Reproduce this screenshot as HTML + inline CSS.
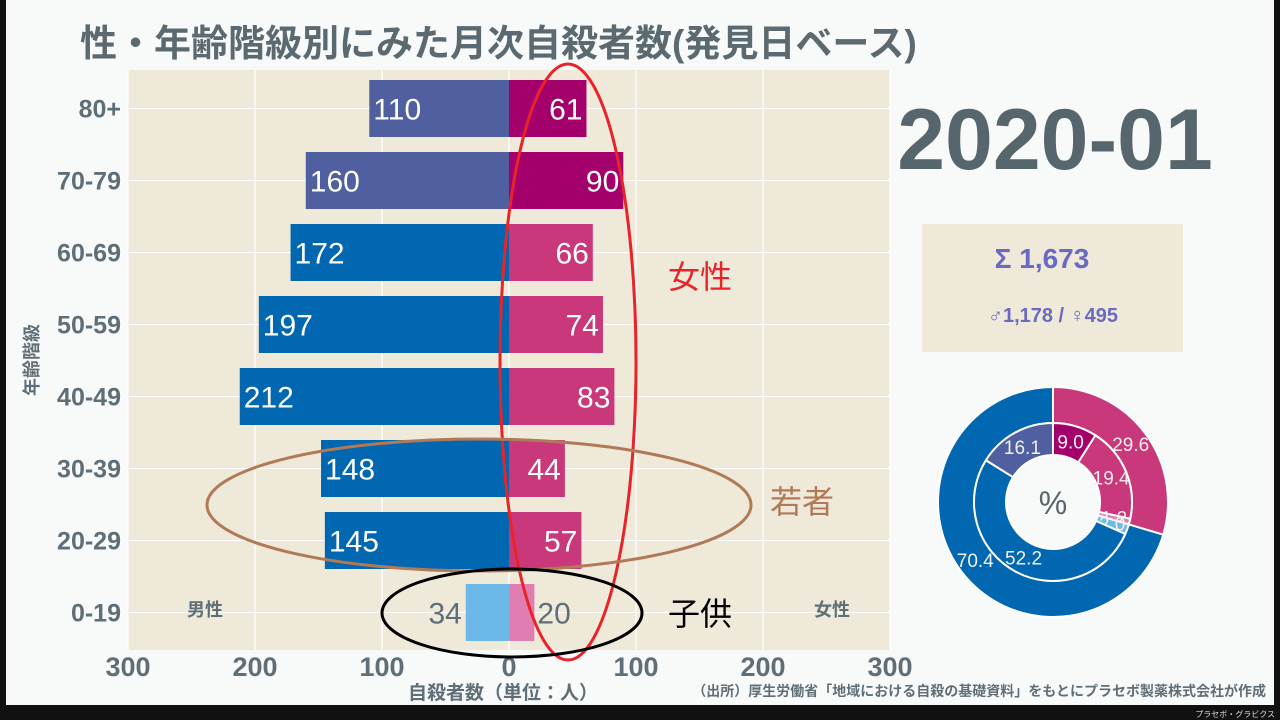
<!DOCTYPE html>
<html><head><meta charset="utf-8"><style>
html,body{margin:0;padding:0;background:#111;}
svg{display:block;font-family:"Liberation Sans","Noto Sans CJK JP",sans-serif;}
</style></head><body>
<svg id="c" width="1280" height="720" viewBox="0 0 1280 720">
<rect x="6" y="0" width="1268" height="705" fill="#f8f9f9"/>
<text x="80" y="56" font-size="37" font-weight="bold" fill="#5a6a70">性・年齢階級別にみた月次自殺者数(発見日ベース)</text>
<rect x="128" y="70" width="762" height="580" fill="#efe9d9"/>
<g id="grid"></g><g id="bars"></g><g id="ticks"></g>
<text x="205" y="616" font-size="18" font-weight="bold" fill="#5f6f78" text-anchor="middle">男性</text>
<text x="832" y="616" font-size="18" font-weight="bold" fill="#5f6f78" text-anchor="middle">女性</text>
<text transform="translate(38,360) rotate(-90)" font-size="18" font-weight="bold" fill="#5f6f78" text-anchor="middle">年齢階級</text>
<text x="503" y="699" font-size="19" font-weight="bold" fill="#5f6f78" text-anchor="middle">自殺者数（単位：人）</text>
<text x="1266" y="696" font-size="14" font-weight="bold" fill="#5f6f78" text-anchor="end">（出所）厚生労働省「地域における自殺の基礎資料」をもとにプラセボ製薬株式会社が作成</text>
<text x="1275" y="717" font-size="8" fill="#ddd" text-anchor="end">プラセボ・グラビクス</text>
<ellipse cx="568" cy="362" rx="68" ry="298" fill="none" stroke="#e8232a" stroke-width="3"/>
<ellipse cx="479" cy="505" rx="272" ry="66" fill="none" stroke="#b07a58" stroke-width="3"/>
<ellipse cx="512" cy="613" rx="130" ry="44" fill="none" stroke="#000" stroke-width="3"/>
<text x="668" y="288" font-size="32" fill="#e8232a">女性</text>
<text x="770" y="513" font-size="32" fill="#b07a58">若者</text>
<text x="668" y="625" font-size="32" fill="#000">子供</text>
<text x="1055" y="169" font-size="86" font-weight="bold" fill="#56666c" text-anchor="middle">2020-01</text>
<rect x="922" y="224" width="261" height="128" fill="#efe9d9"/>
<text id="tot" x="1042" y="268" font-size="28" font-weight="bold" fill="#6a6ac0" text-anchor="middle"></text>
<text id="split" x="1053" y="322" font-size="20" font-weight="bold" fill="#6a6ac0" text-anchor="middle"></text>
<g id="donut"></g>
<text x="1053" y="514" font-size="32" fill="#56666c" text-anchor="middle">%</text>
</svg>
<script>
const ages=["80+","70-79","60-69","50-59","40-49","30-39","20-29","0-19"];
const male=[110,160,172,197,212,148,145,34];
const female=[61,90,66,74,83,44,57,20];
const xTicks=[-300,-200,-100,0,100,200,300];
const NS="http://www.w3.org/2000/svg";
const x0=509,k=381/300,rowTop=80,rowH=72,barH=57;
const xs=v=>x0+v*k;
function el(t,a,p){const e=document.createElementNS(NS,t);for(const n in a)e.setAttribute(n,a[n]);p.appendChild(e);return e;}
const grid=document.getElementById('grid'),bars=document.getElementById('bars'),ticks=document.getElementById('ticks');
xTicks.forEach(t=>{
 const l=el('line',{x1:xs(t),x2:xs(t),y1:70,y2:650,stroke:'#fff','stroke-width':1.2},grid);
 
 
 const tx=el('text',{x:xs(t),y:676,'font-size':27,'font-weight':'bold',fill:'#5f6f78','text-anchor':'middle'},ticks);
 tx.textContent=Math.abs(t);
 
 
});
function mCol(i){return i<2?'#4f5fa0':(i<7?'#0067b0':'#6cb8e8');}
function fCol(i){return i<2?'#a3006b':(i<7?'#c9387a':'#e07eb2');}
ages.forEach((a,i)=>{
 const cy=rowTop+i*rowH+barH/2;
 const gl=el('line',{x1:128,x2:890,y1:cy,y2:cy,stroke:'#fff','stroke-width':1},grid);
 
 
 const yl=el('text',{x:121,y:cy+9,'font-size':25,'font-weight':'bold',fill:'#5f6f78','text-anchor':'end'},ticks);
 yl.textContent=a;
 
 
 const mb=el('rect',{x:xs(-male[i]),y:cy-barH/2,width:male[i]*k,height:barH,fill:mCol(i)},bars);
 
 
 const fb=el('rect',{x:x0,y:cy-barH/2,width:female[i]*k,height:barH,fill:fCol(i)},bars);
 
 
 const inside=i<7;
 const ml=el('text',{x:inside?xs(-male[i])+4:xs(-male[i])-4,y:cy+11,'font-size':30,fill:inside?'#fff':'#5f6f78','text-anchor':inside?'start':'end'},bars);
 ml.textContent=male[i];
 
 
 const fl=el('text',{x:inside?xs(female[i])-4:xs(female[i])+3,y:cy+11,'font-size':30,fill:inside?'#fff':'#5f6f78','text-anchor':inside?'end':'start'},bars);
 fl.textContent=female[i];
 
 
});
const mT=male.reduce((a,b)=>a+b,0),fT=female.reduce((a,b)=>a+b,0),T=mT+fT;
const fmt=n=>n.toLocaleString('en-US');
document.getElementById('tot').textContent='Σ  '+fmt(T);
document.getElementById('split').textContent='♂'+fmt(mT)+' / ♀'+fmt(fT);
const cx=1053,cy=502,dg=document.getElementById('donut');
function arc(r0,r1,a0,a1,fill,name){
 const p=(r,a)=>[cx+r*Math.sin(a),cy-r*Math.cos(a)];
 const lg=(a1-a0)>Math.PI?1:0;
 const [x1,y1]=p(r1,a0),[x2,y2]=p(r1,a1),[x3,y3]=p(r0,a1),[x4,y4]=p(r0,a0);
 const e=el('path',{d:`M${x1},${y1}A${r1},${r1} 0 ${lg} 1 ${x2},${y2}L${x3},${y3}A${r0},${r0} 0 ${lg} 0 ${x4},${y4}Z`,fill:fill,stroke:'#fff','stroke-width':2},dg);
 
 
}
function lab(r,a,txt,name){
 const t=el('text',{x:cx+r*Math.sin(a),y:cy-r*Math.cos(a)+7,'font-size':19,fill:'#f0f0f0','text-anchor':'middle'},dg);
 t.textContent=txt;
 
 
}
const sum=(arr,a,b)=>arr.slice(a,b).reduce((x,y)=>x+y,0);
const outer=[[fT,'#c9387a','female-share'],[mT,'#0067b0','male-share']];
let a=0;
outer.forEach(([v,c,n])=>{const s=v/T*2*Math.PI;arc(79,115,a,a+s,c,'outer-'+n);lab(97,a+s/2,(v/T*100).toFixed(1),n+'-label');a+=s;});
const inner=[[sum(female,0,2),'#a3006b','female-elderly'],[sum(female,2,7),'#c9387a','female-adult'],[female[7],'#e07eb2','female-child'],[male[7],'#6cb8e8','male-child'],[sum(male,2,7),'#0067b0','male-adult'],[sum(male,0,2),'#4f5fa0','male-elderly']];
a=0;
inner.forEach(([v,c,n])=>{const s=v/T*2*Math.PI;arc(47,79,a,a+s,c,'inner-'+n);lab(63,a+s/2,(v/T*100).toFixed(1),n+'-label');a+=s;});
</script>
</body></html>
